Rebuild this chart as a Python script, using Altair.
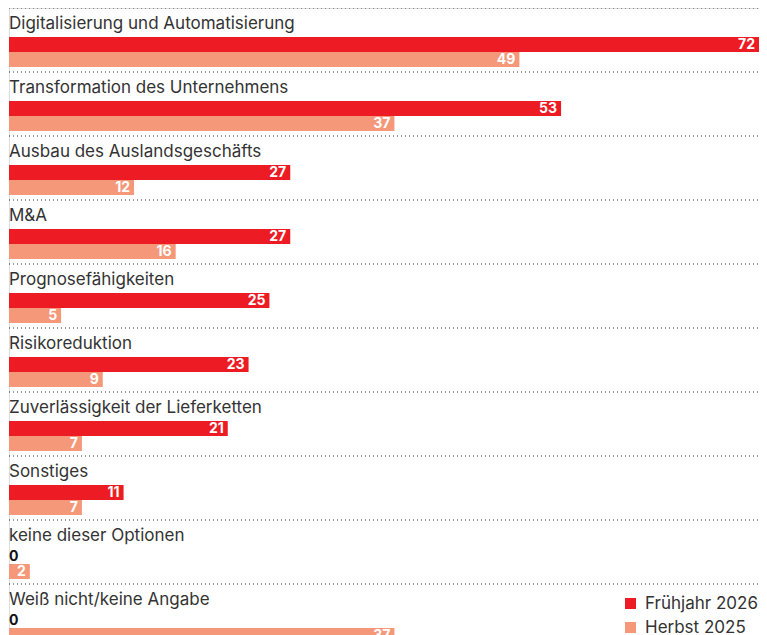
import altair as alt
import pandas as pd

categories = [
    "Digitalisierung und Automatisierung",
    "Transformation des Unternehmens",
    "Ausbau des Auslandsgeschäfts",
    "M&A",
    "Prognosefähigkeiten",
    "Risikoreduktion",
    "Zuverlässigkeit der Lieferketten",
    "Sonstiges",
    "keine dieser Optionen",
    "Weiß nicht/keine Angabe",
]
spring_2026 = [72, 53, 27, 27, 25, 23, 21, 11, 0, 0]
autumn_2025 = [49, 37, 12, 16, 5, 9, 7, 7, 2, 37]
series_names = ["Frühjahr 2026", "Herbst 2025"]
series_colors = ["#ED1C24", "#F5987A"]

rows = []
for c, s, a in zip(categories, spring_2026, autumn_2025):
    rows.append({"category": c, "series": series_names[0], "value": s})
    rows.append({"category": c, "series": series_names[1], "value": a})
df = pd.DataFrame(rows)
cat_df = pd.DataFrame({"category": categories})

W = 750
H = 640
FONT = "Inter"
TXT = "#333333"

yscale = alt.Scale(domain=categories, paddingInner=0, paddingOuter=0)
y_band = alt.Y("category:N", scale=yscale, axis=None)
y_top = alt.Y("category:N", scale=yscale, axis=None, bandPosition=0)
y_off = alt.YOffset(
    "series:N",
    scale=alt.Scale(domain=series_names, range=[29, 59], paddingInner=0, paddingOuter=0),
)
x_enc = alt.X("value:Q", scale=alt.Scale(domain=[0, 72]), axis=None)

rules = alt.Chart(cat_df).mark_rule(
    strokeDash=[1, 3], color=TXT, strokeWidth=1
).encode(x=alt.value(0), x2=alt.value(W), y=y_top)

cat_labels = alt.Chart(cat_df).mark_text(
    align="left", baseline="middle", dy=16, fontSize=17, color=TXT, font=FONT
).encode(x=alt.value(0), y=y_top, text="category:N")

bars = alt.Chart(df).mark_bar().encode(
    x=x_enc,
    y=y_band,
    yOffset=y_off,
    color=alt.Color(
        "series:N",
        scale=alt.Scale(domain=series_names, range=series_colors),
        legend=alt.Legend(
            title=None,
            orient="none",
            legendX=613,
            legendY=587,
            symbolType="square",
            symbolSize=121,
            symbolStrokeWidth=0,
            labelFontSize=17,
            labelColor=TXT,
            labelFont=FONT,
            rowPadding=6,
            labelOffset=6,
        ),
    ),
)

val_labels = alt.Chart(df).transform_filter("datum.value > 0").mark_text(
    align="right", baseline="middle", dx=-4, color="white",
    fontWeight="bold", fontSize=14, font=FONT
).encode(x=x_enc, y=y_band, yOffset=y_off, text="value:Q")

zero_labels = alt.Chart(df).transform_filter("datum.value == 0").mark_text(
    align="left", baseline="middle", dx=0, color="#111111",
    fontWeight="bold", fontSize=14, font=FONT
).encode(x=x_enc, y=y_band, yOffset=y_off, text="value:Q")

chart = alt.layer(rules, cat_labels, bars, val_labels, zero_labels).properties(
    width=W,
    height=H,
    autosize=alt.AutoSizeParams(type="none"),
    padding={"left": 1, "top": 0, "right": 0, "bottom": 0},
).configure_view(stroke=None).configure(font=FONT)

chart.save("out.html", embed_options={"renderer": "svg", "actions": False})
